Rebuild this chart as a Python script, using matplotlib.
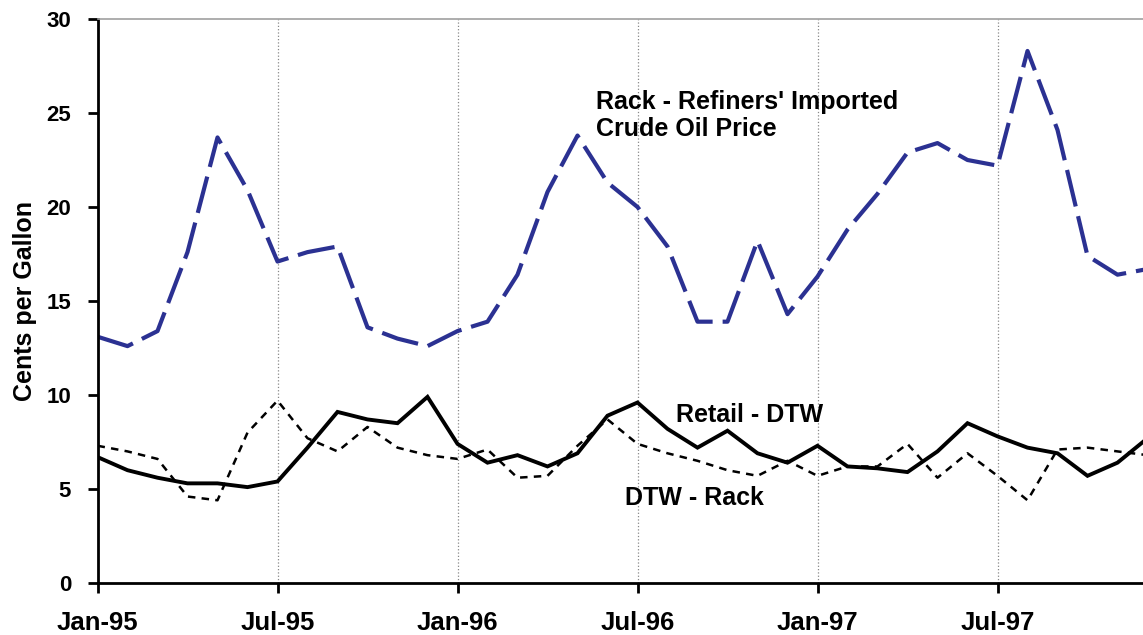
import numpy as np
import matplotlib
matplotlib.use('Agg')
import matplotlib.pyplot as plt

plt.rcParams['font.family'] = ['Liberation Sans', 'DejaVu Sans']
plt.rcParams['font.weight'] = 'bold'

# monthly data, Jan-95 .. Dec-97 (cents per gallon)
months = np.arange(36)
rack_crude = [13.1, 12.6, 13.4, 17.6, 23.7, 20.9, 17.1, 17.6, 17.9, 13.6, 13.0, 12.6,
              13.4, 13.9, 16.4, 20.8, 23.8, 21.3, 20.0, 17.9, 13.9, 13.9, 18.2, 14.3,
              16.3, 18.8, 20.7, 22.9, 23.4, 22.5, 22.2, 28.3, 24.1, 17.4, 16.4, 16.7]
retail_dtw = [6.7, 6.0, 5.6, 5.3, 5.3, 5.1, 5.4, 7.2, 9.1, 8.7, 8.5, 9.9,
              7.4, 6.4, 6.8, 6.2, 6.9, 8.9, 9.6, 8.2, 7.2, 8.1, 6.9, 6.4,
              7.3, 6.2, 6.1, 5.9, 7.0, 8.5, 7.8, 7.2, 6.9, 5.7, 6.4, 7.7]
dtw_rack = [7.3, 7.0, 6.6, 4.6, 4.4, 8.0, 9.7, 7.7, 7.0, 8.3, 7.2, 6.8,
            6.6, 7.1, 5.6, 5.7, 7.3, 8.7, 7.4, 6.9, 6.5, 6.0, 5.7, 6.5,
            5.7, 6.2, 6.2, 7.4, 5.6, 6.9, 5.7, 4.4, 7.1, 7.2, 7.0, 6.8]

tick_pos = [0, 6, 12, 18, 24, 30]
tick_labels = ['Jan-95', 'Jul-95', 'Jan-96', 'Jul-96', 'Jan-97', 'Jul-97']

W, H = 1143, 635
fig = plt.figure(figsize=(W / 100, H / 100), dpi=100)
ax = fig.add_axes([97.5 / W, (H - 583) / H, (W - 97.5) / W, (583 - 19) / H])

ax.plot(months, rack_crude, color='#2B3192', lw=3.0, dashes=(9, 2.4), solid_capstyle='butt')
ax.plot(months, retail_dtw, color='black', lw=2.8, solid_joinstyle='miter')
ax.plot(months, dtw_rack, color='black', lw=1.8, dashes=(3, 2.5))

ax.set_xlim(0, (W - 97.5) / 30)
ax.set_ylim(0, 30)
ax.set_yticks(range(0, 31, 5))
ax.set_xticks(tick_pos)
ax.set_xticklabels(tick_labels)
ax.tick_params(axis='both', width=2, length=7, direction='out')
ax.tick_params(axis='x', labelsize=18.5, pad=13)
ax.tick_params(axis='y', labelsize=16, pad=12)
for lab in ax.get_xticklabels() + ax.get_yticklabels():
    lab.set_fontweight('bold')

ax.grid(axis='x', color='#888888', linestyle=':', linewidth=0.9)
ax.spines['left'].set_linewidth(2)
ax.spines['bottom'].set_linewidth(2)
ax.spines['top'].set_color('#a0a0a0')
ax.spines['top'].set_linewidth(1.2)
ax.spines['right'].set_visible(False)

ax.set_ylabel('Cents per Gallon', fontsize=18, fontweight='bold', labelpad=7)

ax.text(16.6, 23.8, "Rack - Refiners' Imported\nCrude Oil Price", fontsize=18,
        fontweight='bold', linespacing=1.15, va='baseline')
ax.text(19.28, 8.58, 'Retail - DTW', fontsize=18, fontweight='bold', va='baseline')
ax.text(17.58, 4.15, 'DTW - Rack', fontsize=18, fontweight='bold', va='baseline')

fig.savefig('out.png', dpi=100)
